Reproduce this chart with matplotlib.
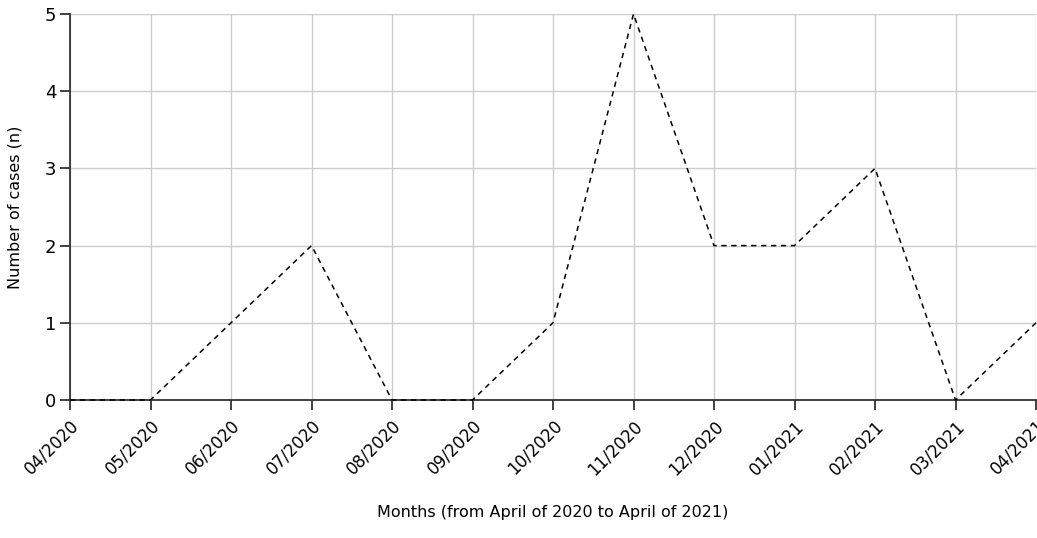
import matplotlib
matplotlib.use("Agg")
import matplotlib.pyplot as plt

months = ["04/2020", "05/2020", "06/2020", "07/2020", "08/2020", "09/2020", "10/2020",
          "11/2020", "12/2020", "01/2021", "02/2021", "03/2021", "04/2021"]
cases = [0, 0, 1, 2, 0, 0, 1, 5, 2, 2, 3, 0, 1]
y_ticks = [0, 1, 2, 3, 4, 5]

plt.rcParams['font.family'] = ['DejaVu Sans']

fig = plt.figure(figsize=(10.37, 5.38), dpi=100)
ax = fig.add_axes([70/1037, 1 - 400/538, (1036 - 70)/1037, (400 - 14)/538])

x = list(range(len(months)))
ax.plot(x, cases, linestyle=(0, (3.5, 3)), color='black', linewidth=1.1, clip_on=False, zorder=3)

ax.set_xlim(0, len(months) - 1)
ax.set_ylim(0, 5)
ax.set_xticks(x)
ax.set_xticklabels(months, rotation=45, ha='right', rotation_mode='anchor', fontsize=12)
ax.set_yticks(y_ticks)
ax.set_yticklabels([str(v) for v in y_ticks], fontsize=13)

ax.grid(True, color='#cccccc', linewidth=1)
ax.set_axisbelow(True)
for s in ['top', 'right']:
    ax.spines[s].set_visible(False)
for s in ['left', 'bottom']:
    ax.spines[s].set_color('#333333')
    ax.spines[s].set_linewidth(1.3)
ax.tick_params(axis='both', direction='out', length=7, width=1.3, color='#333333', pad=3)
ax.tick_params(axis='x', pad=5)

ax.set_ylabel("Number of cases (n)", fontsize=11.5, labelpad=14)
ax.set_xlabel("Months (from April of 2020 to April of 2021)", fontsize=11.5)
ax.xaxis.set_label_coords(0.5, -(513 - 400) / 386, transform=ax.transAxes)
ax.xaxis.label.set_va('center')
ax.yaxis.set_label_coords(-(70 - 15) / 966, 0.5, transform=ax.transAxes)
ax.yaxis.label.set_va('center')

fig.savefig("out.png", dpi=100)
